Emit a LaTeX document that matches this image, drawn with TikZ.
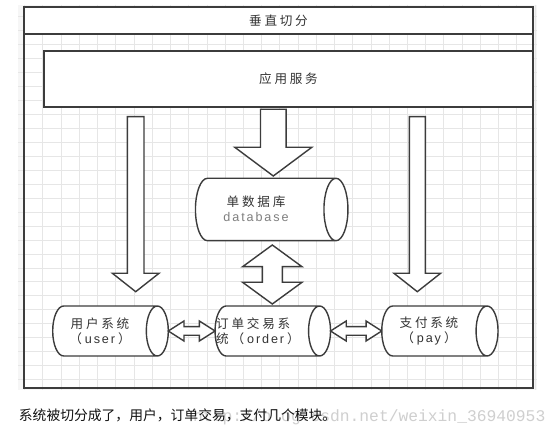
\documentclass[tikz,border=0pt]{standalone}
\usepackage{fontspec}
\setmainfont{Noto Sans CJK SC}
\newfontfamily\lblfont[LetterSpace=22]{Noto Sans CJK SC}
\newfontfamily\latfont[LetterSpace=15]{Liberation Sans}
\newfontfamily\capfont{Noto Sans CJK SC}
\newfontfamily\wmfont{Liberation Mono}
\usetikzlibrary{calc}
\definecolor{linec}{HTML}{3C3C3C}
\definecolor{gridc}{HTML}{E6E6E6}
\definecolor{gridbg}{HTML}{F6F6F6}
\definecolor{txtc}{HTML}{333333}
\definecolor{dbtxt}{HTML}{7F7F7F}
\definecolor{wmc}{HTML}{CFCFCF}
\definecolor{capc}{HTML}{111111}

\tikzset{
  framebox/.style={draw=linec, line width=1.8pt, inner sep=0pt, outer sep=0pt},
  blk/.style={draw=linec, fill=white, line width=1.4pt, line join=miter},
  cyl/.style={draw=linec, fill=white, line width=1.4pt},
  cylbox/.style={draw=none, inner sep=0pt, outer sep=0pt, minimum height=50pt},
  lbl/.style={inner sep=0pt, text=txtc, font=\lblfont\fontsize{12.6}{15}\selectfont},
}

% down block arrow: #1 top anchor, #2 bottom anchor, #3 x, #4 top gap, #5 bottom gap, #6 shaft half, #7 head half, #8 head length
\newcommand\blkdown[8]{%
  \draw[blk] let \p1=(#1), \p2=(#2) in
    (#3-#6,\y1-#4) -- (#3-#6,\y2+#5+#8) -- (#3-#7,\y2+#5+#8) -- (#3,\y2+#5)
    -- (#3+#7,\y2+#5+#8) -- (#3+#6,\y2+#5+#8) -- (#3+#6,\y1-#4) -- cycle;}
% vertical double block arrow
\newcommand\blkupdown[8]{%
  \draw[blk] let \p1=(#1), \p2=(#2) in
    (#3,\y1-#4) -- (#3+#7,\y1-#4-#8) -- (#3+#6,\y1-#4-#8) -- (#3+#6,\y2+#5+#8)
    -- (#3+#7,\y2+#5+#8) -- (#3,\y2+#5) -- (#3-#7,\y2+#5+#8) -- (#3-#6,\y2+#5+#8)
    -- (#3-#6,\y1-#4-#8) -- (#3-#7,\y1-#4-#8) -- cycle;}
% horizontal double block arrow: #1 left anchor, #2 right anchor, #3 shaft half, #4 head half, #5 head length
\newcommand\blkleftright[5]{%
  \draw[blk] let \p1=(#1), \p2=(#2) in
    (\x1,\y1) -- (\x1+#5,\y1+#4) -- (\x1+#5,\y1+#3) -- (\x2-#5,\y1+#3) -- (\x2-#5,\y1+#4)
    -- (\x2,\y1) -- (\x2-#5,\y1-#4) -- (\x2-#5,\y1-#3) -- (\x1+#5,\y1-#3) -- (\x1+#5,\y1-#4) -- cycle;}
% horizontal cylinder outline on a named box: #1 node, #2 end x radius
\newcommand\cylshape[2]{%
  \draw[cyl] let \p1=(#1.north west), \p2=(#1.south east), \n1={(\y1-\y2)/2} in
    (\x1+#2,\y1) arc[start angle=90, end angle=270, x radius=#2, y radius=\n1*1pt]
    -- (\x2-#2,\y2) arc[start angle=270, end angle=450, x radius=#2, y radius=\n1*1pt] -- cycle
    (\x2-#2,\y1) arc[start angle=90, end angle=270, x radius=#2, y radius=\n1*1pt];}

\begin{document}
\begin{tikzpicture}[x=1pt, y=-1pt]
\useasboundingbox (0,0) rectangle (560,438);
\fill[white] (0,0) rectangle (560,438);
% grid area
\fill[gridbg] (18,5) rectangle (537,390);
\fill[white] (24,7) rectangle (533,388);
\foreach \i in {0,...,28} \draw[gridc, line width=0.6pt] (24.5+\i*18.23,5) -- (24.5+\i*18.23,390);
\foreach \j in {0,...,26} \draw[gridc, line width=0.6pt] (18,16.75+\j*13.95) -- (537,16.75+\j*13.95);

% frame, title bar, application box
\node[framebox, minimum width=509pt, minimum height=381pt] (frame) at (278.5,197.5) {};
\node[framebox, fill=white, anchor=north, minimum width=509pt, minimum height=27pt,
      font=\lblfont\fontsize{12.6}{15}\selectfont, text=txtc] (title) at (frame.north) {垂直切分};
\node[framebox, fill=white, minimum width=489pt, minimum height=56pt,
      font=\lblfont\fontsize{12.6}{15}\selectfont, text=txtc] (app) at (288.5,79) {应用服务};

% cylinder boxes
\node[cylbox, minimum width=152.5pt, minimum height=62.4pt] (db) at (271.7,209.5) {};
\node[cylbox, minimum width=115.6pt] (user) at (110.5,331) {};
\node[cylbox, minimum width=115.5pt] (order) at (272.8,331) {};
\node[cylbox, minimum width=116.3pt] (pay) at (439.9,331) {};

% block arrows
\blkdown{app.south}{user.north}{135.7pt}{9.7pt}{14.3pt}{8.3pt}{23.3pt}{18.4pt}
\blkdown{app.south}{pay.north}{417.3pt}{9.7pt}{14.3pt}{8pt}{23.3pt}{18.4pt}
\blkdown{app.south}{db.north}{273.3pt}{2.3pt}{2.3pt}{12.8pt}{38.5pt}{28.7pt}
\blkupdown{db.south}{order.north}{272.3pt}{4.3pt}{2pt}{10pt}{29.7pt}{21.7pt}

% cylinders
\cylshape{db}{12pt}
\cylshape{user}{11pt}
\cylshape{order}{11pt}
\cylshape{pay}{11pt}

\blkleftright{user.east}{order.west}{4.3pt}{10pt}{15.7pt}
\blkleftright{order.east}{pay.west}{4.3pt}{10pt}{15.7pt}

% labels
\node[lbl, align=center] (dbT) at (256,208.7) {单数据库\\{\latfont\color{dbtxt}database}};
\node[lbl, align=center] (userT) at (100,331) {用户系统\\（\hspace{3pt}{\latfont user}\hspace{3pt}）};
\node[lbl, align=left, anchor=west] (orderT) at (216,331) {订单交易系\\统（\hspace{3pt}{\latfont order}\hspace{3pt}）};
\node[lbl, align=center] (payT) at (429,331) {支付系统\\（\hspace{3pt}{\latfont pay}\hspace{3pt}）};

% watermark and caption
\node[anchor=base west, inner sep=0pt, text=wmc, font=\wmfont\fontsize{16.3}{18}\selectfont] (wm) at (193,421) {http://blog.csdn.net/weixin\_36940953};
\node[anchor=west, inner sep=0pt, text=capc, font=\capfont\fontsize{13.8}{16}\selectfont] (cap) at (18.7,415) {系统被切分成了，用户，订单交易，支付几个模块。};
\end{tikzpicture}
\end{document}
